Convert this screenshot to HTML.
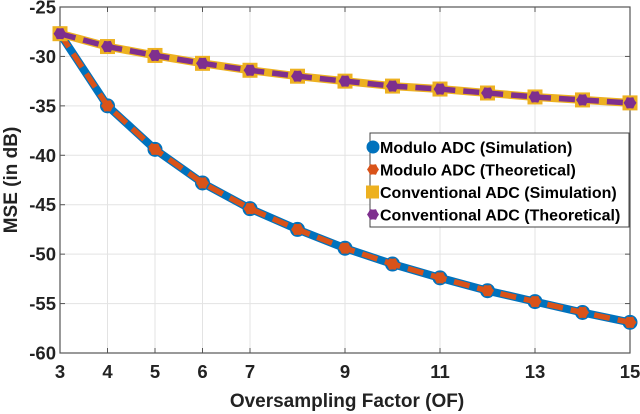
<!DOCTYPE html>
<html><head><meta charset="utf-8"><style>
html,body{margin:0;padding:0;background:#fff;}
svg{display:block;font-family:"Liberation Sans",Arial,sans-serif;font-weight:bold;}
</style></head><body>
<svg id="chart" width="640" height="414" viewBox="0 0 640 414"></svg>
<script>
const ofValues=[3,4,5,6,7,8,9,10,11,12,13,14,15];
const moduloSim=[-27.7,-35,-39.4,-42.8,-45.4,-47.5,-49.4,-51,-52.4,-53.7,-54.8,-55.9,-56.9];
const moduloTheo=[-27.7,-35,-39.4,-42.8,-45.4,-47.5,-49.4,-51,-52.4,-53.7,-54.8,-55.9,-56.9];
const convSim=[-27.7,-29,-29.9,-30.7,-31.4,-32,-32.5,-33,-33.3,-33.7,-34.1,-34.4,-34.7];
const convTheo=[-27.7,-29,-29.9,-30.7,-31.4,-32,-32.5,-33,-33.3,-33.7,-34.1,-34.4,-34.7];
const xTicks=[3,4,5,6,7,9,11,13,15];
const yTicks=[-25,-30,-35,-40,-45,-50,-55,-60];
const legendLabels=["Modulo ADC (Simulation)","Modulo ADC (Theoretical)","Conventional ADC (Simulation)","Conventional ADC (Theoretical)"];

const L=60,R=630,T=7,B=353;
const xs=v=>L+(v-3)/(15-3)*(R-L);
const ys=v=>T+(-25-v)/(35)*(B-T);
const NS="http://www.w3.org/2000/svg";
const svg=document.getElementById('chart');
function mk(tag,attrs,parent){const e=document.createElementNS(NS,tag);for(const k in attrs)e.setAttribute(k,attrs[k]);(parent||svg).appendChild(e);return e;}

const grid=mk('g',{});


xTicks.forEach(t=>{mk('line',{x1:xs(t),x2:xs(t),y1:T,y2:B,stroke:'#e3e3e3','stroke-width':1},grid);});
yTicks.forEach(t=>{mk('line',{x1:L,x2:R,y1:ys(t),y2:ys(t),stroke:'#e3e3e3','stroke-width':1},grid);});

const box=mk('rect',{x:L,y:T,width:R-L,height:B-T,fill:'none',stroke:'#555','stroke-width':1.2});



const xt=mk('g',{});


xTicks.forEach(t=>{
  mk('line',{x1:xs(t),x2:xs(t),y1:B,y2:B-5,stroke:'#555'},xt);
  mk('line',{x1:xs(t),x2:xs(t),y1:T,y2:T+5,stroke:'#555'},xt);
  const tx=mk('text',{x:xs(t),y:B+25,'text-anchor':'middle','font-size':18.5,fill:'#222'},xt);tx.textContent=t;
});
const yt=mk('g',{});


yTicks.forEach(t=>{
  mk('line',{x1:L,x2:L+5,y1:ys(t),y2:ys(t),stroke:'#555'},yt);
  mk('line',{x1:R,x2:R-5,y1:ys(t),y2:ys(t),stroke:'#555'},yt);
  const tx=mk('text',{x:L-4,y:ys(t)+6.5,'text-anchor':'end','font-size':18.5,fill:'#222'},yt);tx.textContent=t;
});
const xl=mk('text',{x:(L+R)/2+2,y:407,'text-anchor':'middle','font-size':19,fill:'#222'});
xl.textContent='Oversampling Factor (OF)';


const yl=mk('text',{x:0,y:0,'text-anchor':'middle','font-size':19,fill:'#222',transform:`translate(17,${(T+B)/2}) rotate(-90)`});
yl.textContent='MSE (in dB)';



function star(cx,cy,r,color,parent){
  let p=[];for(let i=0;i<12;i++){const a=Math.PI*i/6;const rr=i%2?r*0.82:r;p.push((cx+rr*Math.cos(a)).toFixed(1)+','+(cy+rr*Math.sin(a)).toFixed(1));}
  return mk('polygon',{points:p.join(' '),fill:color},parent);
}
function pts(arr){return arr.map((v,i)=>xs(ofValues[i])+','+ys(v)).join(' ');}

const sMS=mk('g',{});


mk('polyline',{points:pts(moduloSim),fill:'none',stroke:'#0072BD','stroke-width':8},sMS);
moduloSim.forEach((v,i)=>{mk('circle',{cx:xs(ofValues[i]),cy:ys(v),r:7.5,fill:'#0072BD'},sMS);});
const sMT=mk('g',{});


mk('polyline',{points:pts(moduloTheo),fill:'none',stroke:'#D95319','stroke-width':5.5,'stroke-dasharray':'16 8'},sMT);
moduloTheo.forEach((v,i)=>{star(xs(ofValues[i]),ys(v),6.5,'#D95319',sMT);});
const sCS=mk('g',{});


mk('polyline',{points:pts(convSim),fill:'none',stroke:'#EDB120','stroke-width':8},sCS);
convSim.forEach((v,i)=>{mk('rect',{x:xs(ofValues[i])-7.5,y:ys(v)-7.5,width:15,height:15,fill:'#EDB120'},sCS);});
const sCT=mk('g',{});


mk('polyline',{points:pts(convTheo),fill:'none',stroke:'#7E2F8E','stroke-width':5.5,'stroke-dasharray':'16 8'},sCT);
convTheo.forEach((v,i)=>{star(xs(ofValues[i]),ys(v),6.5,'#7E2F8E',sCT);});

const lg=mk('g',{});


mk('rect',{x:370,y:133,width:259,height:94,fill:'#fff',stroke:'#444','stroke-width':1},lg);
const lc=['#0072BD','#D95319','#EDB120','#7E2F8E'];
legendLabels.forEach((lab,i)=>{
  const y=147+i*22.5;
  const e=mk('g',{},lg);
  
  
  if(i==0)mk('circle',{cx:373,cy:y,r:6.5,fill:lc[i]},e);
  else if(i==2)mk('rect',{x:366,y:y-6.5,width:13,height:13,fill:lc[i]},e);
  else star(373,y,6,lc[i],e);
  const t=mk('text',{x:380,y:y+6,'font-size':16,fill:'#000'},e);
  t.textContent=lab;
});
</script>
</body></html>
